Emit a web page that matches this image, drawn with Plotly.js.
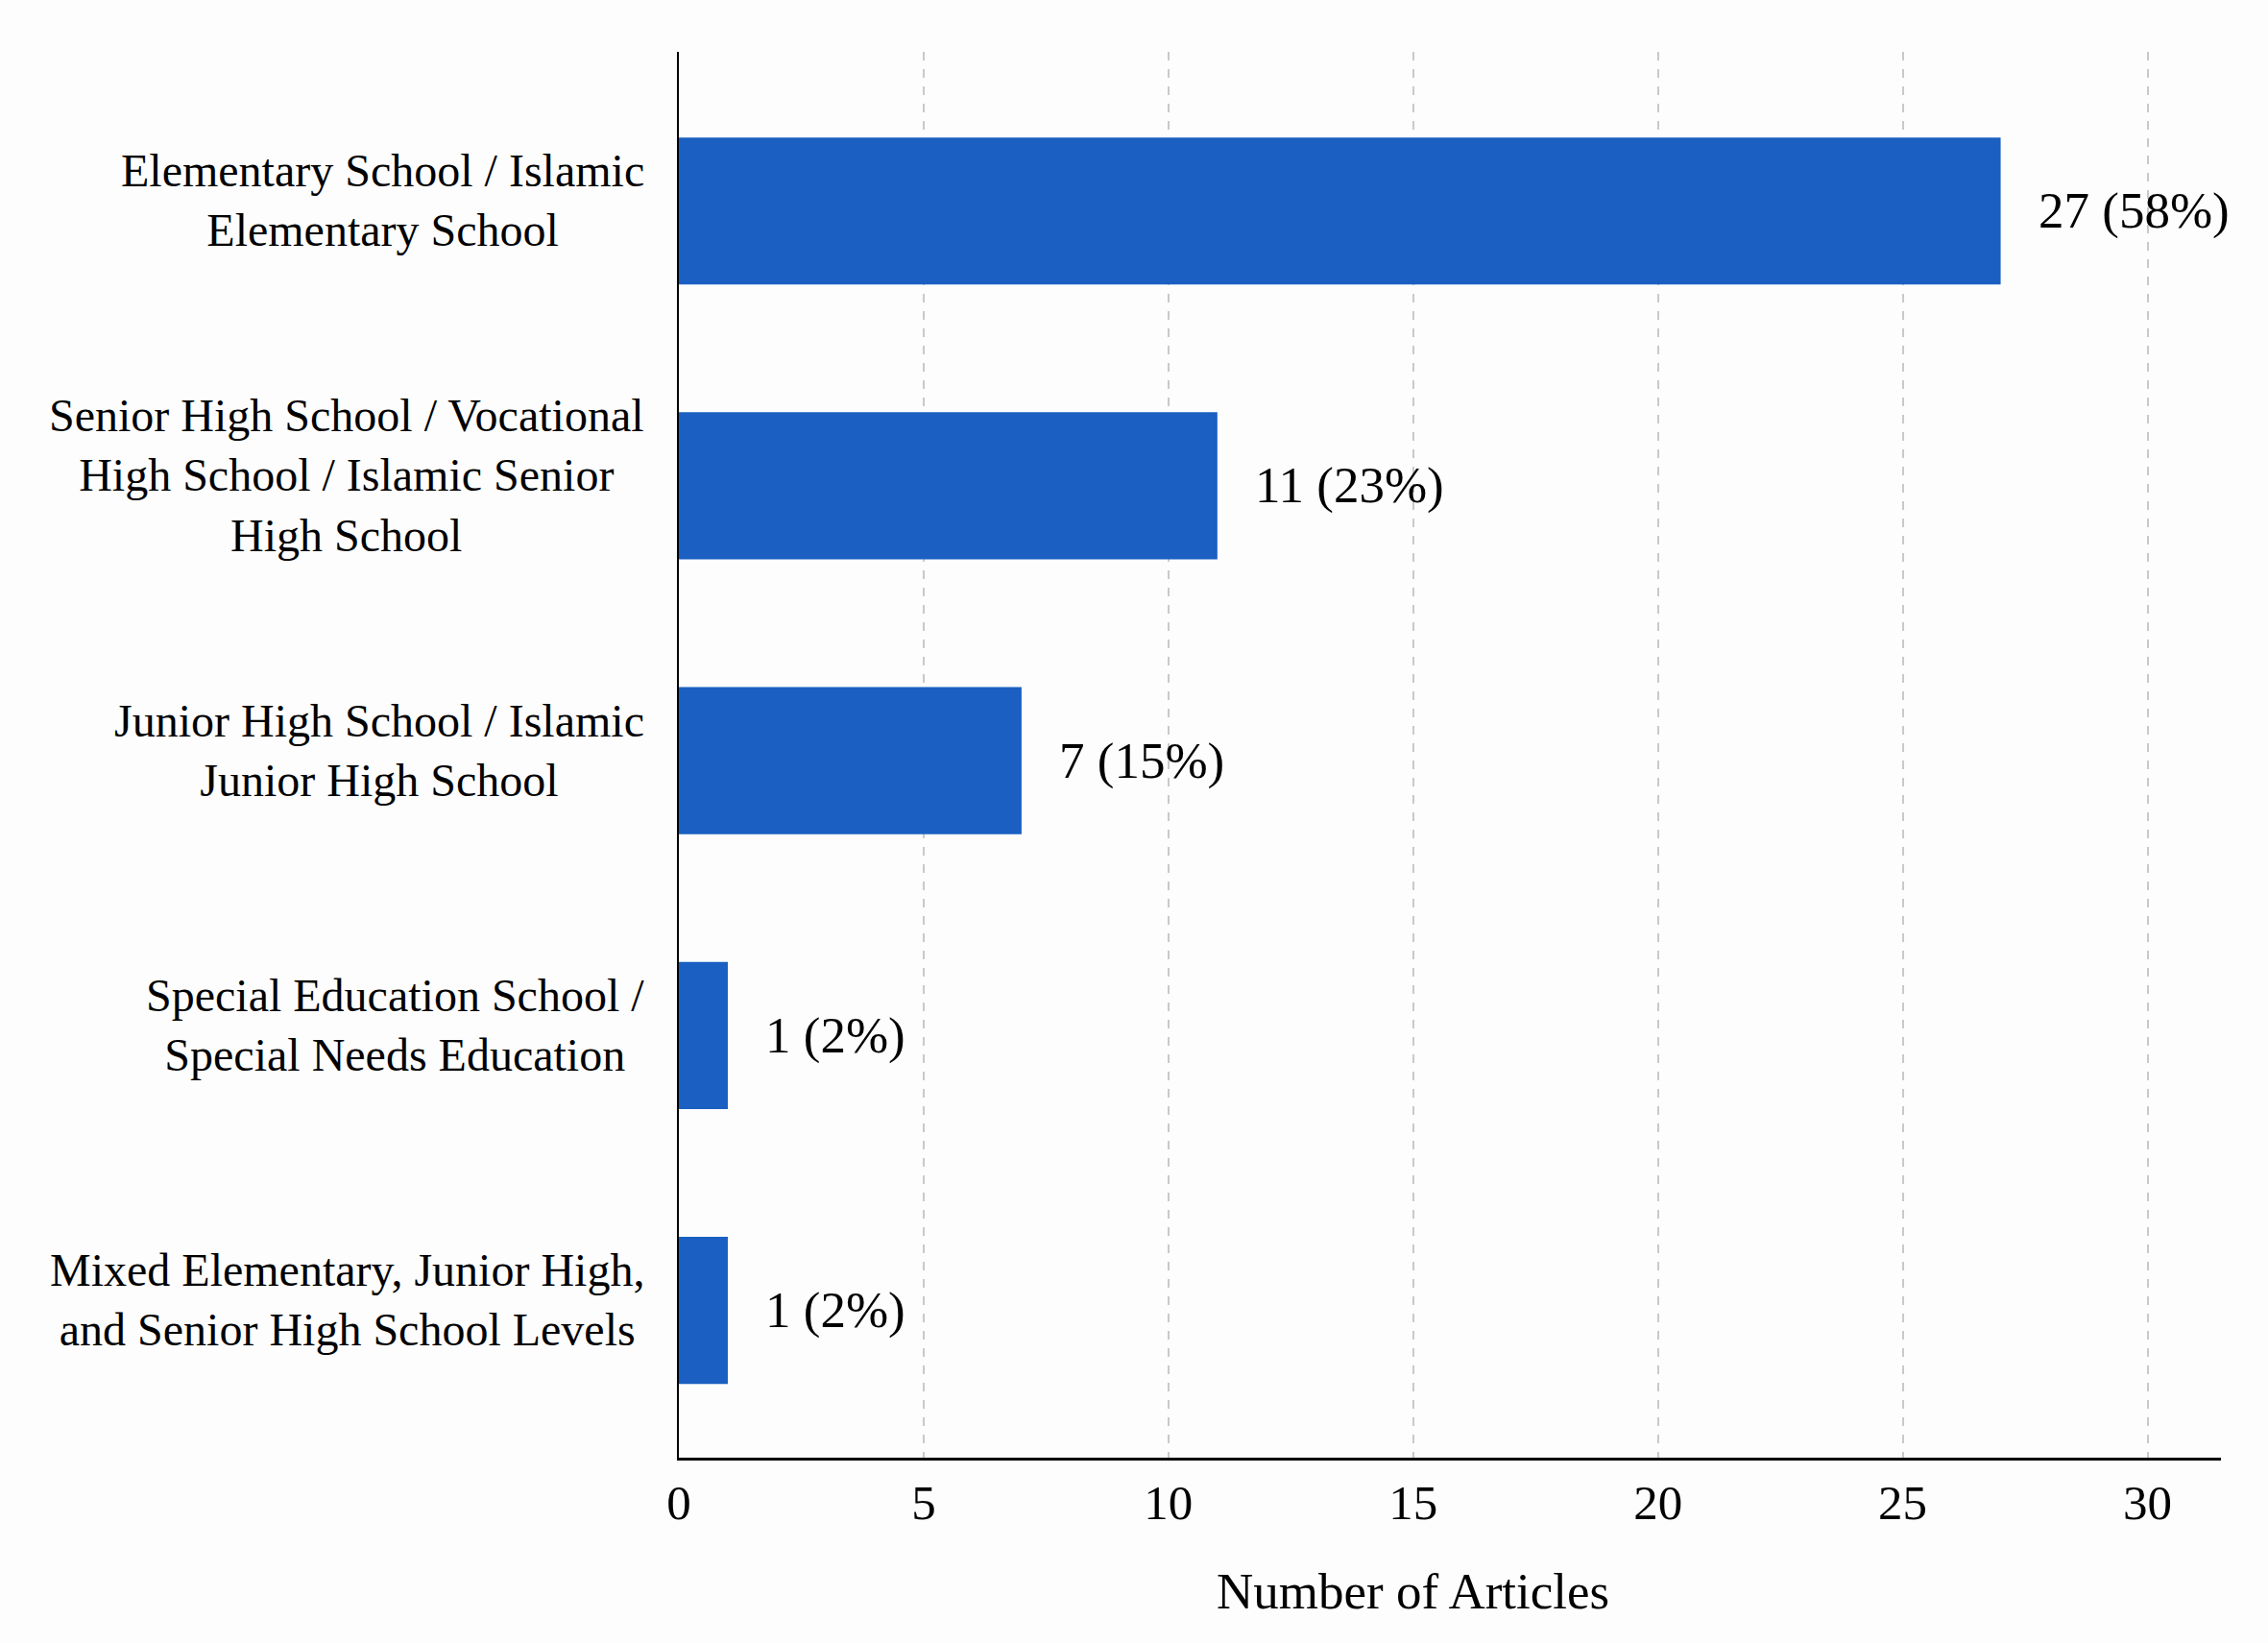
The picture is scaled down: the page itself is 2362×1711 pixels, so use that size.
<!DOCTYPE html>
<html>
<head>
<meta charset="utf-8">
<script src="https://cdn.plot.ly/plotly-3.0.1.min.js"></script>
<style>
  html, body { margin: 0; padding: 0; background: #fdfdfd; }
  #chart { width: 2362px; height: 1711px; }
</style>
</head>
<body>
<div id="chart"></div>
<script>
// school levels, top to bottom
const categories = [
  'Elementary School / Islamic Elementary School',
  'Senior High School / Vocational High School / Islamic Senior High School',
  'Junior High School / Islamic Junior High School',
  'Special Education School / Special Needs Education',
  'Mixed Elementary, Junior High, and Senior High School Levels'
];
const label_lines = [
  'Elementary School / Islamic<br>Elementary School',
  'Senior High School / Vocational<br>High School / Islamic Senior<br>High School',
  'Junior High School / Islamic<br>Junior High School',
  'Special Education School /<br>Special Needs Education',
  'Mixed Elementary, Junior High,<br>and Senior High School Levels'
];
const articles = [ 27, 11, 7, 1, 1 ];
const shares   = [ 58, 23, 15, 2, 2 ];
const x_ticks  = [ 0, 5, 10, 15, 20, 25, 30 ];

const FONT     = 'Liberation Serif, Times New Roman, serif';
const BAR_BLUE = '#1a5fc1';

const trace = {
  type       : 'bar',
  orientation: 'h',
  y          : categories,
  x          : articles,
  width      : 0.535,
  marker     : { color: BAR_BLUE, line: { width: 0 } },
  hoverinfo  : 'none'
};

let annotations = [];

// category labels, right aligned block with centred lines
for ( let i = 0; i < categories.length; i++ ) {
  annotations.push( {
    xref: 'paper', yref: 'y',
    x: 0, y: categories[ i ],
    xanchor: 'right', yanchor: 'middle',
    xshift: -34, yshift: 11,
    align: 'center',
    showarrow: false,
    text: label_lines[ i ],
    font: { family: FONT, size: 48, color: '#000' }
  } );
}

// value labels next to each bar
for ( let i = 0; i < categories.length; i++ ) {
  annotations.push( {
    xref: 'x', yref: 'y',
    x: articles[ i ], y: categories[ i ],
    xanchor: 'left', yanchor: 'middle',
    xshift: 37,
    showarrow: false,
    text: articles[ i ] + ' (' + shares[ i ] + '%)',
    font: { family: FONT, size: 53, color: '#000' }
  } );
}

// axis title, centred on the 0-30 span
annotations.push( {
  xref: 'x', yref: 'paper',
  x: 15, y: -0.095,
  xanchor: 'center', yanchor: 'middle',
  showarrow: false,
  text: 'Number of Articles',
  font: { family: FONT, size: 53, color: '#000' }
} );

const layout = {
  width        : 2362,
  height       : 1711,
  margin       : { l: 707, r: 49, t: 54, b: 193 },
  paper_bgcolor: '#fdfdfd',
  plot_bgcolor : '#fdfdfd',
  showlegend   : false,
  font         : { family: FONT, color: '#000' },
  xaxis: {
    range        : [ 0, 31.5 ],
    tickvals     : x_ticks,
    ticktext     : x_ticks.map( String ),
    tickfont     : { family: FONT, size: 51, color: '#000' },
    ticks        : '',
    showgrid     : true,
    gridcolor    : '#c9c9c9',
    gridwidth    : 2,
    griddash     : '9px,9px',
    zeroline     : false,
    showline     : true,
    linecolor    : '#000',
    linewidth    : 3,
    fixedrange   : true
  },
  yaxis: {
    type          : 'category',
    range         : [ 4.536, -0.579 ],
    showticklabels: false,
    ticks         : '',
    showgrid      : false,
    zeroline      : false,
    showline      : true,
    linecolor     : '#000',
    linewidth     : 2,
    fixedrange    : true
  },
  annotations: annotations
};

Plotly.newPlot( 'chart', [ trace ], layout, { staticPlot: true, displayModeBar: false } );
</script>
</body>
</html>
